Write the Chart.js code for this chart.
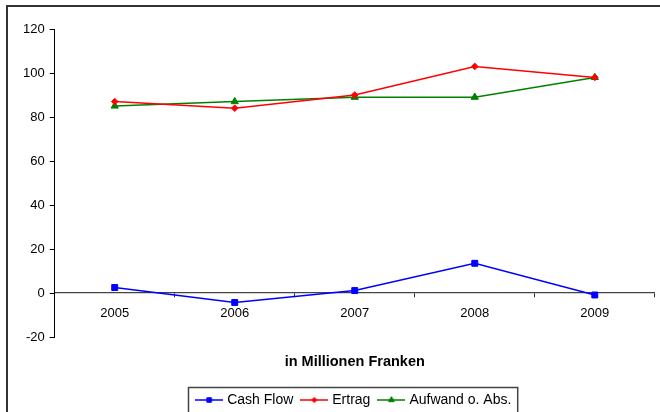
<!DOCTYPE html>
<html>
<head>
<meta charset="utf-8">
<script src="https://cdn.jsdelivr.net/npm/chart.js@4/dist/chart.umd.min.js"></script>
<style>
  html, body { margin: 0; padding: 0; background: #fff; overflow: hidden; }
  #frame { position: absolute; left: 6px; top: 5px; width: 720px; height: 480px; border: 2px solid #333; }
  #wrap { position: absolute; left: 0; top: 0; width: 660px; height: 412px; }
</style>
</head>
<body>
<div id="frame"></div>
<div id="wrap"><canvas id="chart"></canvas></div>
<script>
const years = ['2005', '2006', '2007', '2008', '2009'];
const cashFlow = [2.5, -4.3, 1.1, 13.5, -0.9];
const ertrag = [87, 84, 90, 103, 98];
const aufwand = [85, 87, 89, 89, 98];
const yTicks = { min: -20, max: 120, step: 20 };

const FONT = "'Liberation Sans', Arial, sans-serif";

// small line + marker picture for the legend, like Excel does it
function swatch(color, style, radius) {
  const c = document.createElement('canvas');
  c.width = 28;
  c.height = 10;
  const g = c.getContext('2d');
  g.strokeStyle = color;
  g.fillStyle = color;
  g.lineWidth = 1.5;
  g.beginPath();
  g.moveTo(0, 5);
  g.lineTo(28, 5);
  g.stroke();
  g.lineWidth = 1;
  Chart.helpers.drawPoint(g, { pointStyle: style, radius: radius, borderWidth: 1 }, 14, 5);
  return c;
}

const series = [
  { label: 'Cash Flow', data: cashFlow, color: '#0000ff', style: 'rect', r: 4.2, lr: 3.2 },
  { label: 'Ertrag', data: ertrag, color: '#ff0000', style: 'rectRot', r: 3.3, lr: 2.6 },
  { label: 'Aufwand o. Abs.', data: aufwand, color: '#008000', style: 'triangle', r: 4.2, lr: 3.4 }
];
const swatches = series.map(s => swatch(s.color, s.style, s.lr));

// frame around the legend entries
const legendFrame = {
  id: 'legendFrame',
  afterDraw(chart) {
    const boxes = chart.legend.legendHitBoxes;
    if (!boxes || !boxes.length) return;
    const left = Math.min(...boxes.map(b => b.left));
    const right = Math.max(...boxes.map(b => b.left + b.width));
    const mid = boxes[0].top + boxes[0].height / 2;
    const ctx = chart.ctx;
    ctx.save();
    ctx.strokeStyle = '#444';
    ctx.lineWidth = 1.5;
    ctx.strokeRect(Math.round(left - 10) + 0.5, Math.round(mid - 13) + 0.5, right - left + 16, 30);
    ctx.restore();
  }
};

const ctx = document.getElementById('chart').getContext('2d');
const chart = new Chart(ctx, {
  type: 'line',
  data: {
    labels: years,
    datasets: series.map(s => ({
      label: s.label,
      data: s.data,
      borderColor: s.color,
      backgroundColor: s.color,
      borderWidth: 1.5,
      pointStyle: s.style,
      pointRadius: s.r,
      pointBorderWidth: 1,
      pointBorderColor: s.color,
      pointBackgroundColor: s.color,
      tension: 0,
      fill: false
    }))
  },
  options: {
    responsive: true,
    maintainAspectRatio: false,
    animation: false,
    layout: {
      padding: { top: 29, right: 3, left: 18, bottom: -5 }
    },
    scales: {
      x: {
        type: 'category',
        offset: true,
        position: { y: 0 },
        afterFit: (scale) => { scale.height = 0; },
        grid: {
          offset: true,
          drawOnChartArea: false,
          tickLength: 4,
          color: '#333'
        },
        border: { color: '#444', width: 1.3 },
        ticks: {
          color: '#000',
          padding: 9,
          maxRotation: 0,
          font: { family: FONT, size: 13 }
        }
      },
      y: {
        min: yTicks.min,
        max: yTicks.max,
        grid: {
          drawOnChartArea: false,
          tickLength: 5,
          color: '#000'
        },
        border: { color: '#000', width: 1 },
        ticks: {
          stepSize: yTicks.step,
          color: '#000',
          padding: 5,
          font: { family: FONT, size: 13 }
        }
      }
    },
    plugins: {
      title: {
        display: true,
        position: 'bottom',
        fullSize: false,
        weight: 500,
        text: 'in Millionen Franken',
        color: '#000',
        padding: { top: 16, bottom: 12.6 },
        font: { family: FONT, size: 14.5, weight: 'bold' }
      },
      legend: {
        position: 'bottom',
        fullSize: false,
        labels: {
          color: '#000',
          padding: 10,
          usePointStyle: true,
          pointStyleWidth: 22,
          font: { family: FONT, size: 14 },
          generateLabels: (c) => Chart.defaults.plugins.legend.labels.generateLabels(c)
            .map((item, i) => Object.assign(item, { pointStyle: swatches[i] }))
        }
      },
      tooltip: { enabled: false }
    }
  },
  plugins: [legendFrame]
});
</script>
</body>
</html>
